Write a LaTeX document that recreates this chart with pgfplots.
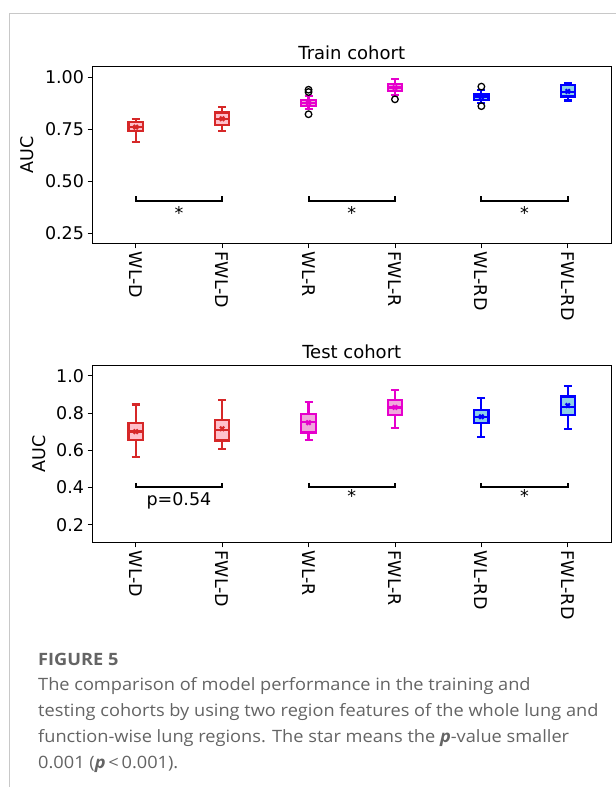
\documentclass[border=0pt]{standalone}
\usepackage{fontspec}
\setmainfont{DejaVu Sans}
\newfontfamily\capfont{Open Sans}[FakeStretch=1.07]
\usepackage{pgfplots}
\pgfplotsset{compat=1.18}
\usepgfplotslibrary{statistics}
\definecolor{cred}{HTML}{D62728}
\definecolor{fred}{HTML}{FFC0CB}
\definecolor{cmag}{HTML}{E600CC}
\definecolor{fmag}{HTML}{F0A8DC}
\definecolor{cblue}{HTML}{0000FF}
\definecolor{fblue}{HTML}{8ED2E6}
\definecolor{capgray}{HTML}{646464}
\definecolor{framegray}{HTML}{C8C8C8}
\newcommand{\cf}{\fontsize{17.5bp}{20bp}\selectfont}
\pgfplotsset{
  myaxis/.style={
    scale only axis, width=518.5bp, height=176.6bp,
    xmin=0.5, xmax=6.5,
    xtick={1,2,3,4,5,6},
    xticklabels={WL-D,FWL-D,WL-R,FWL-R,WL-RD,FWL-RD},
    xticklabel style={rotate=-90, anchor=west, font=\cf},
    yticklabel style={font=\cf},
    tick align=outside, xtick pos=left, ytick pos=left,
    major tick length=5bp,
    tick style={black, line width=0.8bp},
    axis line style={line width=0.9bp, black},
    ylabel={AUC},
    ylabel style={font=\cf, yshift=4bp},
    title style={at={(0.5,1)}, anchor=base, yshift=1.5bp, font=\fontsize{18bp}{20bp}\selectfont},
    clip=false,
    boxplot/draw direction=y,
    boxplot/box extend=0.166,
    boxplot/whisker extend=0.093,
    /pgf/number format/assume math mode=true,
  },
  bx/.style 2 args={solid, line width=2.2bp, draw=#1, fill=#2,
    mark=o, mark size=3.3bp, mark options={draw=black, fill=none, line width=1.3bp, solid},
    boxplot/every average/.style={/tikz/mark=x, /tikz/mark size=3bp, /tikz/mark options={draw=#1, line width=1bp, solid}},
  },
  br/.style={black, line width=2bp, mark=none},
}
\begin{document}
\begin{tikzpicture}
\useasboundingbox (0,0) rectangle (616bp,787bp);
\fill[white] (0,0) rectangle (616bp,787bp);
\draw[framegray, line width=1bp] (9.3bp,0) -- (9.3bp,773.7bp) -- (616bp,773.7bp);

% Train cohort
\begin{axis}[myaxis, at={(92.5bp,543.7bp)}, anchor=south west,
  ymin=0.2004, ymax=1.051, ytick={0.25,0.5,0.75,1.0},
  yticklabel style={/pgf/number format/.cd, fixed, fixed zerofill, precision=2},
  title={Train cohort}]
\addplot[bx={cred}{fred}, boxplot prepared={draw position=1, lower whisker=0.688, lower quartile=0.740, median=0.762, upper quartile=0.784, upper whisker=0.798, average=0.760}] coordinates {};
\addplot[bx={cred}{fred}, boxplot prepared={draw position=2, lower whisker=0.742, lower quartile=0.772, median=0.798, upper quartile=0.830, upper whisker=0.856, average=0.800}] coordinates {};
\addplot[bx={cmag}{fmag}, boxplot prepared={draw position=3, lower whisker=0.846, lower quartile=0.862, median=0.878, upper quartile=0.891, upper whisker=0.911, average=0.877}] coordinates {(3,0.940) (3,0.929) (3,0.822)};
\addplot[bx={cmag}{fmag}, boxplot prepared={draw position=4, lower whisker=0.915, lower quartile=0.934, median=0.951, upper quartile=0.968, upper whisker=0.990, average=0.950}] coordinates {(4,0.894)};
\addplot[bx={cblue}{fblue}, boxplot prepared={draw position=5, lower whisker=0.878, lower quartile=0.891, median=0.907, upper quartile=0.921, upper whisker=0.939, average=0.906}] coordinates {(5,0.955) (5,0.861)};
\addplot[bx={cblue}{fblue}, boxplot prepared={draw position=6, lower whisker=0.888, lower quartile=0.907, median=0.929, upper quartile=0.962, upper whisker=0.974, average=0.932}] coordinates {};
\addplot[br] coordinates {(1,0.426) (1,0.402) (2,0.402) (2,0.426)};
\addplot[br] coordinates {(3,0.426) (3,0.402) (4,0.402) (4,0.426)};
\addplot[br] coordinates {(5,0.426) (5,0.402) (6,0.402) (6,0.426)};
\node[font=\cf, inner sep=0pt] at (axis cs:1.5,0.345) {*};
\node[font=\cf, inner sep=0pt] at (axis cs:3.5,0.345) {*};
\node[font=\cf, inner sep=0pt] at (axis cs:5.5,0.345) {*};
\end{axis}

% Test cohort
\begin{axis}[myaxis, at={(92.5bp,244.7bp)}, anchor=south west,
  ymin=0.1055, ymax=1.054, ytick={0.2,0.4,0.6,0.8,1.0},
  yticklabel style={/pgf/number format/.cd, fixed, fixed zerofill, precision=1},
  title={Test cohort}]
\addplot[bx={cred}{fred}, boxplot prepared={draw position=1, lower whisker=0.562, lower quartile=0.657, median=0.701, upper quartile=0.748, upper whisker=0.846, average=0.700}] coordinates {};
\addplot[bx={cred}{fred}, boxplot prepared={draw position=2, lower whisker=0.605, lower quartile=0.652, median=0.707, upper quartile=0.762, upper whisker=0.870, average=0.715}] coordinates {};
\addplot[bx={cmag}{fmag}, boxplot prepared={draw position=3, lower whisker=0.655, lower quartile=0.695, median=0.750, upper quartile=0.793, upper whisker=0.861, average=0.748}] coordinates {};
\addplot[bx={cmag}{fmag}, boxplot prepared={draw position=4, lower whisker=0.720, lower quartile=0.789, median=0.830, upper quartile=0.871, upper whisker=0.925, average=0.830}] coordinates {};
\addplot[bx={cblue}{fblue}, boxplot prepared={draw position=5, lower whisker=0.671, lower quartile=0.748, median=0.780, upper quartile=0.818, upper whisker=0.880, average=0.780}] coordinates {};
\addplot[bx={cblue}{fblue}, boxplot prepared={draw position=6, lower whisker=0.712, lower quartile=0.789, median=0.832, upper quartile=0.889, upper whisker=0.946, average=0.840}] coordinates {};
\addplot[br] coordinates {(1,0.425) (1,0.400) (2,0.400) (2,0.425)};
\addplot[br] coordinates {(3,0.425) (3,0.400) (4,0.400) (4,0.425)};
\addplot[br] coordinates {(5,0.425) (5,0.400) (6,0.400) (6,0.425)};
\node[font=\cf, inner sep=0pt] at (axis cs:1.5,0.327) {p=0.54};
\node[font=\cf, inner sep=0pt] at (axis cs:3.5,0.352) {*};
\node[font=\cf, inner sep=0pt] at (axis cs:5.5,0.352) {*};
\end{axis}

% Caption
\begin{scope}[every node/.style={anchor=base west, inner sep=0pt, text=capgray}]
\node[font=\capfont\fontsize{17bp}{20bp}\selectfont\bfseries] at (38bp,121.3bp) {FIGURE 5};
\node[font=\capfont\fontsize{17bp}{20bp}\selectfont] at (38bp,96.3bp) {The comparison of model performance in the training and};
\node[font=\capfont\fontsize{17bp}{20bp}\selectfont] at (38bp,70.3bp) {testing cohorts by using two region features of the whole lung and};
\node[font=\capfont\fontsize{17bp}{20bp}\selectfont] at (38bp,44.7bp) {function-wise lung regions. The star means the \textbf{\textit{p}}-value smaller};
\node[font=\capfont\fontsize{17bp}{20bp}\selectfont] at (38bp,19bp) {0.001 (\textbf{\textit{p}}\,<\,0.001).};
\end{scope}
\end{tikzpicture}
\end{document}
